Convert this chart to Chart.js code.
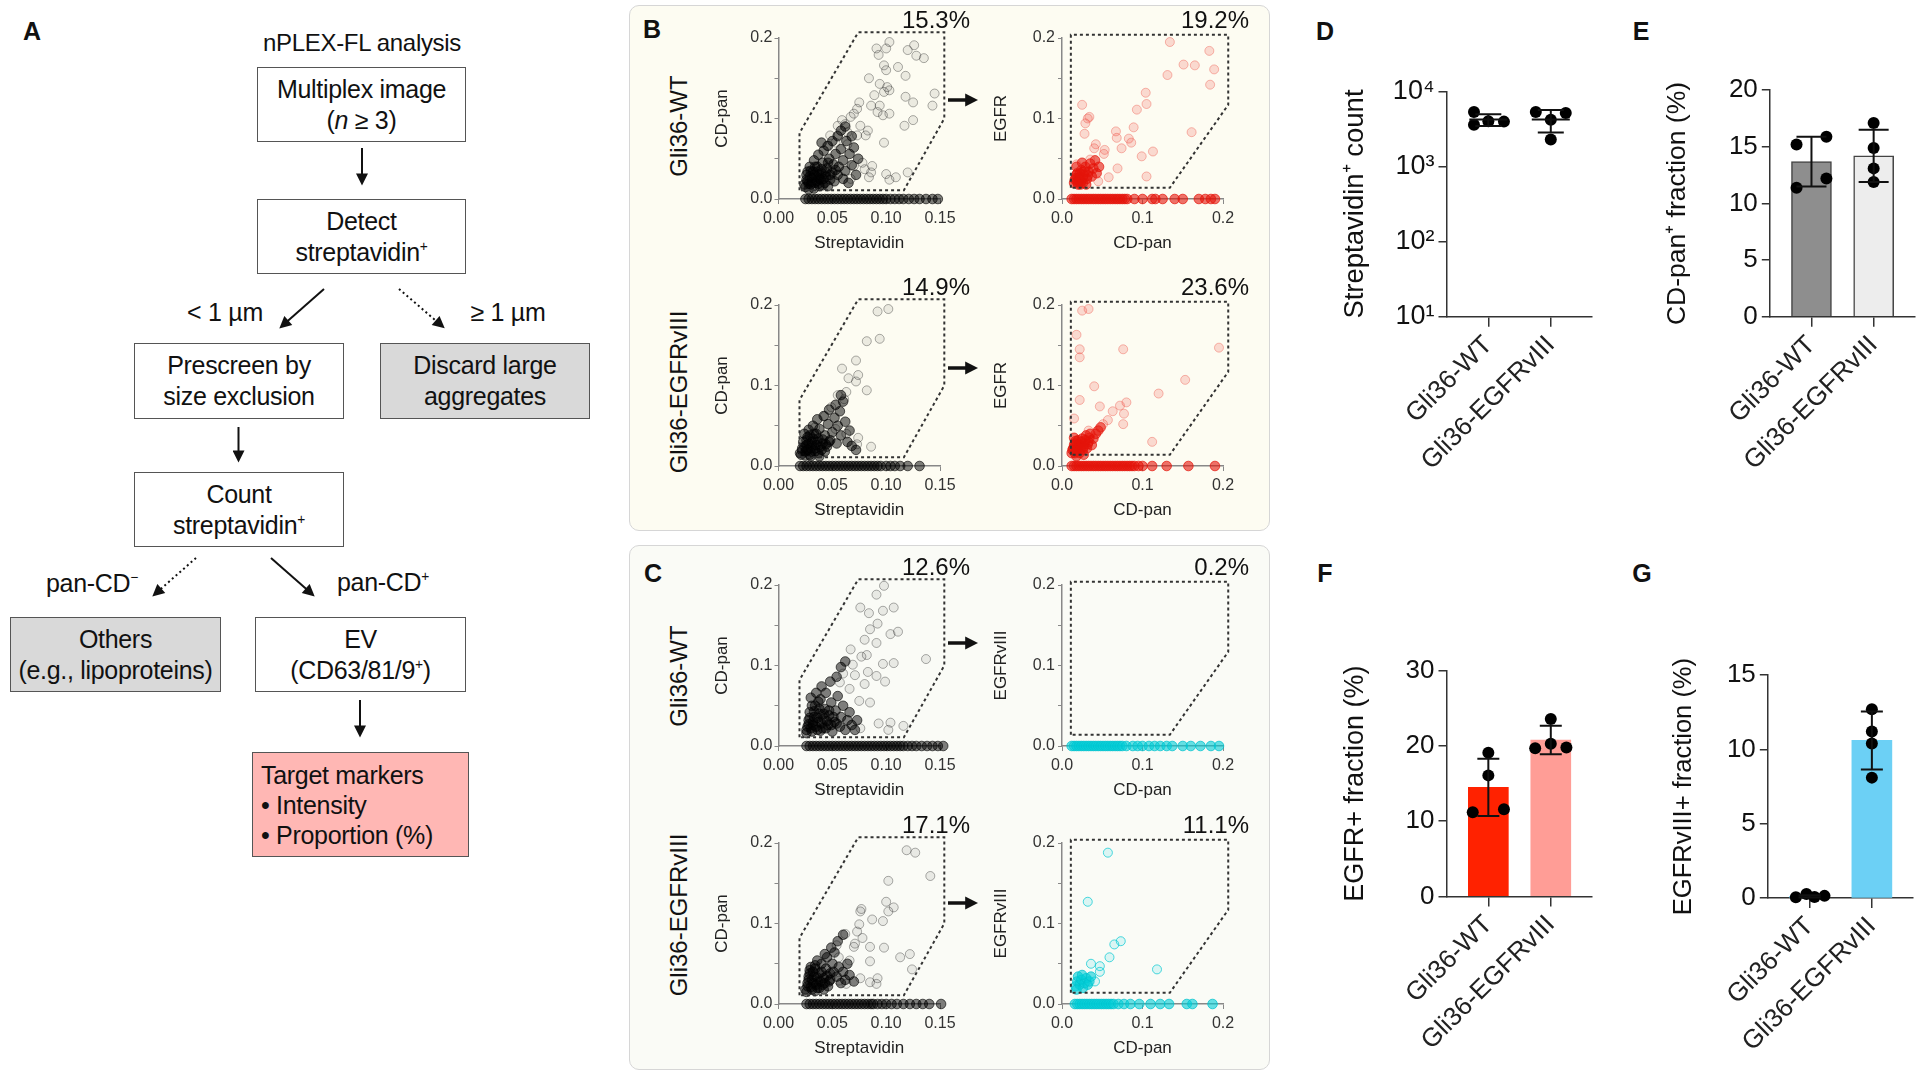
<!DOCTYPE html>
<html lang="en">
<head>
<meta charset="UTF-8">
<title>nPLEX-FL analysis of Gli36 EVs</title>
<script src="https://cdn.jsdelivr.net/npm/chart.js"></script>
<style>
  body { margin: 0; background: #fff; font-family: "Liberation Sans", Arial, Helvetica, sans-serif; color: #111; }
  #page { position: relative; width: 1920px; height: 1080px; overflow: hidden; }
  #page canvas { position: absolute; }
  .panel { position: absolute; border: 1.5px solid #d6d6d6; border-radius: 10px; box-sizing: border-box; }
  .letter { position: absolute; font-weight: bold; font-size: 25px; transform: translate(-50%, -50%); }
  .ctr { position: absolute; transform: translate(-50%, -50%); white-space: nowrap; font-size: 25px; letter-spacing: -0.3px; }
  .rowlab { position: absolute; transform: translate(-50%, -50%) rotate(-90deg); white-space: nowrap; font-size: 24px; }
  .box { position: absolute; box-sizing: border-box; border: 1.5px solid #555; background: #fff; font-size: 25px;
         letter-spacing: -0.3px; line-height: 31px; text-align: center; display: flex; flex-direction: column; justify-content: center; }
  .box.gray { background: #d9d9d9; }
  .box.pink { background: #ffb7b4; text-align: left; padding-left: 8px; line-height: 30px; }
  sup { font-size: 0.55em; vertical-align: 0.7em; line-height: 0; }
  svg { position: absolute; left: 0; top: 0; }
</style>
</head>
<body>
<div id="page">
  <!-- panel backgrounds -->
  <div class="panel" style="left:629px;top:5px;width:641px;height:526px;background:#fdfcf2"></div>
  <div class="panel" style="left:629px;top:545px;width:641px;height:525px;background:#fafbf6"></div>

  <!-- A: workflow -->
  <div class="letter" style="left:32px;top:31px">A</div>
  <div class="ctr" style="left:362px;top:43px;font-size:24px">nPLEX-FL analysis</div>
  <div class="box" style="left:257px;top:67px;width:209px;height:75px"><div>Multiplex image<br>(<i>n</i> ≥ 3)</div></div>
  <div class="box" style="left:257px;top:199px;width:209px;height:75px"><div>Detect<br>streptavidin<sup>+</sup></div></div>
  <div class="ctr" style="left:225px;top:312px">&lt; 1 µm</div>
  <div class="ctr" style="left:508px;top:312px">≥ 1 µm</div>
  <div class="box" style="left:134px;top:343px;width:210px;height:76px"><div>Prescreen by<br>size exclusion</div></div>
  <div class="box gray" style="left:380px;top:343px;width:210px;height:76px"><div>Discard large<br>aggregates</div></div>
  <div class="box" style="left:134px;top:472px;width:210px;height:75px"><div>Count<br>streptavidin<sup>+</sup></div></div>
  <div class="ctr" style="left:92px;top:583px">pan-CD<sup>−</sup></div>
  <div class="ctr" style="left:383px;top:582px">pan-CD<sup>+</sup></div>
  <div class="box gray" style="left:10px;top:617px;width:211px;height:75px"><div>Others<br>(e.g., lipoproteins)</div></div>
  <div class="box" style="left:255px;top:617px;width:211px;height:75px"><div>EV<br>(CD63/81/9<sup>+</sup>)</div></div>
  <div class="box pink" style="left:252px;top:752px;width:217px;height:105px"><div>Target markers<br>• Intensity<br>• Proportion (%)</div></div>

  <!-- B / C labels -->
  <div class="letter" style="left:652px;top:29px">B</div>
  <div class="letter" style="left:653px;top:573px">C</div>
  <div class="rowlab" style="left:679px;top:126px">Gli36-WT</div>
  <div class="rowlab" style="left:679px;top:392px">Gli36-EGFRvIII</div>
  <div class="rowlab" style="left:679px;top:676px">Gli36-WT</div>
  <div class="rowlab" style="left:679px;top:915px">Gli36-EGFRvIII</div>

  <div class="letter" style="left:1325px;top:31px">D</div>
  <div class="letter" style="left:1641px;top:31px">E</div>
  <div class="letter" style="left:1325px;top:573px">F</div>
  <div class="letter" style="left:1642px;top:573px">G</div>

  <svg width="1920" height="1080">
    <defs>
      <marker id="ah" viewBox="0 0 10 10" refX="7" refY="5" markerUnits="userSpaceOnUse" markerWidth="14" markerHeight="12" orient="auto">
        <path d="M0,0 L10,5 L0,10 z" fill="#111"/>
      </marker>
      <marker id="ahBig" viewBox="0 0 10 10" refX="6" refY="5" markerUnits="userSpaceOnUse" markerWidth="13" markerHeight="16" orient="auto">
        <path d="M0,0 L10,5 L0,10 z" fill="#111"/>
      </marker>
    </defs>
    <g stroke="#111" stroke-width="2" fill="none">
      <line x1="362" y1="148" x2="362" y2="182" marker-end="url(#ah)"/>
      <line x1="324" y1="289" x2="282" y2="326" marker-end="url(#ah)"/>
      <line x1="399" y1="289" x2="442" y2="326" stroke-dasharray="2 3" marker-end="url(#ah)"/>
      <line x1="238.5" y1="427" x2="238.5" y2="459" marker-end="url(#ah)"/>
      <line x1="196" y1="558" x2="155" y2="594" stroke-dasharray="2 3" marker-end="url(#ah)"/>
      <line x1="271" y1="558" x2="312" y2="594" marker-end="url(#ah)"/>
      <line x1="360" y1="700" x2="360" y2="734" marker-end="url(#ah)"/>
    </g>
    <g stroke="#111" stroke-width="3.5" fill="none">
      <line x1="948" y1="100" x2="973" y2="100" marker-end="url(#ahBig)"/>
      <line x1="948" y1="368" x2="973" y2="368" marker-end="url(#ahBig)"/>
      <line x1="948" y1="643" x2="973" y2="643" marker-end="url(#ahBig)"/>
      <line x1="948" y1="903" x2="973" y2="903" marker-end="url(#ahBig)"/>
    </g>
  </svg>
</div>

<script>
// ---------- categories ----------
const groups = ['Gli36-WT', 'Gli36-EGFRvIII'];

// ---------- panels B/C: gates (x, y) ----------
const gateLeft = [[0.0195,0.011],[0.0195,0.082],[0.074,0.207],[0.154,0.207],[0.154,0.100],[0.1165,0.011],[0.0195,0.011]];
const gateRight = [[0.011,0.014],[0.011,0.204],[0.2065,0.204],[0.2065,0.117],[0.134,0.014],[0.011,0.014]];

// gated percentages
const pctB = ['15.3%', '19.2%', '14.9%', '23.6%'];
const pctC = ['12.6%', '0.2%', '17.1%', '11.1%'];

// B, Gli36-WT: CD-pan vs streptavidin
const bWtLeftSparse = [[0.103,0.195],[0.100,0.187],[0.091,0.187],[0.093,0.179],[0.120,0.185],[0.126,0.191],[0.128,0.178],[0.135,0.175],
  [0.098,0.166],[0.100,0.160],[0.111,0.164],[0.118,0.153],[0.084,0.150],[0.094,0.143],[0.101,0.139],[0.098,0.133],[0.103,0.135],
  [0.089,0.129],[0.086,0.116],[0.094,0.116],[0.092,0.108],[0.097,0.104],[0.103,0.106],[0.118,0.127],[0.125,0.120],[0.145,0.131],
  [0.143,0.116],[0.125,0.098],[0.117,0.091],[0.098,0.070],[0.083,0.085],[0.075,0.120],[0.070,0.106],[0.073,0.112],[0.067,0.102],
  [0.076,0.091],[0.081,0.079],[0.059,0.098],[0.055,0.091],[0.062,0.093],[0.048,0.079],[0.055,0.079],[0.045,0.066],[0.053,0.070],
  [0.064,0.083],[0.073,0.079],[0.064,0.068],[0.078,0.045],[0.087,0.041],[0.086,0.033],[0.100,0.031],[0.103,0.024],[0.109,0.027],
  [0.120,0.033],[0.084,0.027],[0.080,0.037],[0.070,0.041],[0.067,0.025]];
const bWtLeftCore = [[0.025,0.015],[0.027,0.022],[0.026,0.030],[0.030,0.018],[0.031,0.026],[0.032,0.034],[0.034,0.020],[0.035,0.028],
  [0.036,0.040],[0.038,0.016],[0.039,0.024],[0.040,0.032],[0.041,0.045],[0.043,0.020],[0.044,0.028],[0.045,0.038],[0.047,0.050],
  [0.048,0.024],[0.050,0.033],[0.051,0.043],[0.053,0.056],[0.055,0.030],[0.056,0.040],[0.058,0.062],[0.060,0.048],[0.062,0.035],
  [0.063,0.072],[0.066,0.056],[0.068,0.042],[0.070,0.064],[0.072,0.030],[0.074,0.050],[0.029,0.040],[0.033,0.048],[0.037,0.055],
  [0.042,0.060],[0.046,0.066],[0.050,0.072],[0.055,0.078],[0.028,0.012],[0.033,0.013],[0.038,0.030],[0.046,0.016],[0.052,0.022],
  [0.060,0.025],[0.065,0.020],[0.040,0.070],[0.058,0.085],[0.062,0.090],[0.068,0.078],
  [0.024,0.018],[0.026,0.024],[0.028,0.019],[0.029,0.028],[0.031,0.021],[0.033,0.030],[0.035,0.022],[0.036,0.034],[0.038,0.025],
  [0.040,0.037],[0.042,0.025],[0.044,0.033],[0.030,0.035],[0.034,0.040],[0.027,0.034],[0.037,0.019],[0.041,0.017],[0.048,0.030],
  [0.053,0.036],[0.046,0.045]];
const bWtLeftAxis = [0.025,0.028,0.031,0.034,0.037,0.040,0.043,0.046,0.049,0.052,0.055,0.058,0.061,0.064,0.067,0.070,0.073,0.076,
  0.079,0.082,0.085,0.088,0.091,0.094,0.097,0.100,0.104,0.108,0.112,0.116,0.121,0.126,0.131,0.137,0.143,0.148];

// B, Gli36-WT: EGFR vs CD-pan
const bWtRightSparse = [[0.134,0.195],[0.183,0.184],[0.151,0.167],[0.165,0.166],[0.189,0.161],[0.131,0.154],[0.184,0.142],[0.104,0.132],
  [0.105,0.118],[0.093,0.111],[0.025,0.117],[0.032,0.100],[0.029,0.094],[0.034,0.102],[0.028,0.081],[0.089,0.089],[0.161,0.083],
  [0.067,0.084],[0.068,0.076],[0.083,0.075],[0.086,0.070],[0.074,0.063],[0.042,0.068],[0.040,0.063],[0.053,0.061],[0.052,0.056],
  [0.113,0.059],[0.099,0.053],[0.069,0.038],[0.058,0.027],[0.105,0.028],[0.018,0.043],[0.035,0.049],[0.045,0.022]];
const bWtRightCore = [[0.015,0.020],[0.017,0.026],[0.019,0.032],[0.021,0.022],[0.023,0.028],[0.024,0.036],[0.026,0.020],[0.027,0.030],
  [0.029,0.040],[0.031,0.025],[0.033,0.034],[0.035,0.044],[0.037,0.028],[0.039,0.038],[0.041,0.048],[0.043,0.032],[0.046,0.040],
  [0.020,0.018],[0.030,0.018],[0.025,0.045],[0.018,0.040],
  [0.016,0.024],[0.018,0.030],[0.020,0.026],[0.022,0.032],[0.024,0.022],[0.026,0.026],[0.028,0.034],[0.032,0.029],[0.019,0.021],
  [0.023,0.018]];
const bWtRightAxis = [0.012,0.015,0.018,0.021,0.024,0.027,0.030,0.033,0.036,0.039,0.042,0.045,0.048,0.051,0.054,0.057,0.060,0.063,
  0.066,0.069,0.072,0.075,0.078,0.081,0.090,0.100,0.112,0.116,0.125,0.140,0.150,0.170,0.178,0.185,0.190];

// B, Gli36-EGFRvIII: CD-pan vs streptavidin
const bViiiLeftSparse = [[0.092,0.192],[0.102,0.195],[0.082,0.155],[0.094,0.158],[0.072,0.131],[0.059,0.121],[0.065,0.109],[0.074,0.113],
  [0.072,0.105],[0.082,0.094],[0.063,0.092],[0.055,0.088],[0.061,0.083],[0.049,0.073],[0.043,0.062],[0.074,0.035],[0.086,0.024],
  [0.073,0.027],[0.063,0.040],[0.053,0.046],[0.034,0.048]];
const bViiiLeftCore = [[0.021,0.014],[0.022,0.022],[0.023,0.030],[0.025,0.018],[0.026,0.026],[0.027,0.036],[0.029,0.014],[0.030,0.022],
  [0.031,0.030],[0.033,0.040],[0.034,0.018],[0.035,0.026],[0.037,0.034],[0.038,0.046],[0.040,0.020],[0.041,0.028],[0.043,0.038],
  [0.045,0.024],[0.046,0.052],[0.048,0.032],[0.050,0.042],[0.052,0.060],[0.054,0.028],[0.055,0.050],[0.057,0.068],[0.058,0.038],
  [0.060,0.080],[0.062,0.055],[0.064,0.030],[0.066,0.044],[0.024,0.040],[0.028,0.045],[0.032,0.050],[0.036,0.058],[0.042,0.062],
  [0.047,0.070],[0.053,0.076],[0.058,0.088],[0.030,0.012],[0.038,0.012],[0.068,0.025],[0.072,0.020],
  [0.020,0.016],[0.022,0.019],[0.024,0.024],[0.025,0.013],[0.027,0.020],[0.028,0.028],[0.030,0.017],[0.031,0.025],[0.032,0.034],
  [0.034,0.022],[0.036,0.030],[0.037,0.016],[0.039,0.024],[0.041,0.033],[0.043,0.018],[0.044,0.027],[0.026,0.032],[0.029,0.038],
  [0.035,0.040],[0.047,0.030]];
const bViiiLeftAxis = [0.020,0.023,0.026,0.029,0.032,0.035,0.038,0.041,0.044,0.047,0.050,0.053,0.056,0.059,0.062,0.065,0.068,0.071,
  0.074,0.077,0.080,0.083,0.086,0.089,0.092,0.095,0.100,0.104,0.108,0.113,0.120,0.131];

// B, Gli36-EGFRvIII: EGFR vs CD-pan
const bViiiRightSparse = [[0.025,0.193],[0.033,0.195],[0.018,0.163],[0.022,0.145],[0.022,0.135],[0.076,0.145],[0.195,0.147],[0.153,0.107],
  [0.040,0.099],[0.120,0.090],[0.022,0.082],[0.047,0.074],[0.072,0.075],[0.080,0.079],[0.077,0.065],[0.063,0.068],[0.057,0.057],
  [0.051,0.052],[0.076,0.052],[0.015,0.059],[0.112,0.030],[0.043,0.043],[0.033,0.044]];
const bViiiRightCore = [[0.012,0.016],[0.014,0.022],[0.016,0.028],[0.017,0.018],[0.019,0.024],[0.020,0.032],[0.022,0.016],[0.023,0.026],
  [0.025,0.034],[0.026,0.020],[0.028,0.028],[0.030,0.038],[0.031,0.022],[0.033,0.030],[0.035,0.040],[0.037,0.026],[0.039,0.034],
  [0.042,0.040],[0.015,0.035],[0.018,0.012],[0.027,0.014],[0.045,0.044],[0.048,0.048],
  [0.013,0.020],[0.015,0.026],[0.017,0.031],[0.019,0.020],[0.021,0.027],[0.023,0.021],[0.024,0.030],[0.027,0.024],[0.029,0.032],
  [0.032,0.027],[0.016,0.016],[0.034,0.035]];
const bViiiRightAxis = [0.012,0.015,0.018,0.021,0.024,0.027,0.030,0.033,0.036,0.039,0.042,0.045,0.048,0.051,0.054,0.057,0.060,0.063,
  0.066,0.069,0.072,0.075,0.078,0.081,0.084,0.087,0.090,0.095,0.100,0.112,0.130,0.157,0.190];

// C, Gli36-WT: CD-pan vs streptavidin
const cWtLeftSparse = [[0.098,0.199],[0.091,0.188],[0.076,0.172],[0.084,0.165],[0.097,0.168],[0.107,0.172],[0.092,0.152],[0.085,0.145],
  [0.104,0.139],[0.111,0.142],[0.080,0.132],[0.091,0.128],[0.067,0.120],[0.082,0.113],[0.077,0.111],[0.069,0.101],[0.097,0.102],
  [0.107,0.103],[0.137,0.108],[0.083,0.092],[0.091,0.087],[0.099,0.080],[0.071,0.088],[0.080,0.077],[0.060,0.090],[0.075,0.056],
  [0.085,0.054],[0.093,0.028],[0.104,0.029],[0.102,0.020],[0.116,0.025],[0.076,0.022],[0.066,0.071],[0.057,0.079]];
const cWtLeftCore = [[0.026,0.016],[0.027,0.024],[0.028,0.032],[0.029,0.042],[0.031,0.018],[0.032,0.026],[0.033,0.036],[0.034,0.050],
  [0.036,0.020],[0.037,0.030],[0.038,0.040],[0.039,0.058],[0.041,0.022],[0.042,0.034],[0.043,0.046],[0.044,0.066],[0.046,0.026],
  [0.047,0.038],[0.049,0.054],[0.050,0.018],[0.052,0.030],[0.053,0.044],[0.055,0.062],[0.057,0.024],[0.058,0.036],[0.060,0.050],
  [0.062,0.020],[0.064,0.032],[0.066,0.042],[0.068,0.026],[0.071,0.020],[0.030,0.060],[0.035,0.066],[0.040,0.074],[0.048,0.080],
  [0.054,0.086],[0.058,0.098],[0.062,0.105],[0.073,0.032],
  [0.026,0.020],[0.028,0.027],[0.029,0.035],[0.030,0.022],[0.032,0.030],[0.033,0.043],[0.035,0.024],[0.036,0.035],[0.038,0.046],
  [0.039,0.019],[0.040,0.028],[0.042,0.040],[0.044,0.022],[0.045,0.031],[0.047,0.044],[0.049,0.026],[0.051,0.036],[0.054,0.028],
  [0.031,0.050],[0.037,0.055]];
const cWtLeftAxis = [0.026,0.029,0.032,0.035,0.038,0.041,0.044,0.047,0.050,0.053,0.056,0.059,0.062,0.065,0.068,0.071,0.074,0.077,
  0.080,0.083,0.086,0.089,0.092,0.095,0.098,0.101,0.104,0.107,0.110,0.113,0.116,0.120,0.124,0.128,0.133,0.138,0.143,0.148,0.153];

// C, Gli36-WT: EGFRvIII vs CD-pan (nothing gated)
const cWtRightSparse = [];
const cWtRightCore = [];
const cWtRightAxis = [0.012,0.015,0.018,0.021,0.024,0.027,0.030,0.033,0.036,0.039,0.042,0.045,0.048,0.051,0.054,0.057,0.060,0.063,
  0.066,0.069,0.072,0.075,0.080,0.088,0.094,0.100,0.108,0.115,0.122,0.130,0.137,0.150,0.160,0.172,0.185,0.195];

// C, Gli36-EGFRvIII: CD-pan vs streptavidin
const cViiiLeftSparse = [[0.119,0.191],[0.127,0.188],[0.141,0.159],[0.102,0.153],[0.100,0.127],[0.107,0.120],[0.102,0.115],[0.077,0.118],
  [0.076,0.115],[0.087,0.105],[0.097,0.103],[0.075,0.099],[0.073,0.090],[0.062,0.087],[0.078,0.082],[0.071,0.075],[0.070,0.071],
  [0.054,0.073],[0.085,0.071],[0.098,0.070],[0.113,0.058],[0.122,0.062],[0.085,0.053],[0.124,0.043],[0.085,0.027],[0.092,0.032],
  [0.091,0.025],[0.076,0.032],[0.063,0.025],[0.056,0.029],[0.066,0.054],[0.056,0.058]];
const cViiiLeftCore = [[0.026,0.015],[0.027,0.022],[0.028,0.030],[0.029,0.038],[0.031,0.018],[0.032,0.026],[0.033,0.034],[0.034,0.044],
  [0.036,0.020],[0.037,0.028],[0.038,0.038],[0.040,0.050],[0.041,0.024],[0.042,0.032],[0.044,0.044],[0.045,0.058],[0.047,0.028],
  [0.048,0.038],[0.050,0.050],[0.052,0.064],[0.054,0.034],[0.056,0.046],[0.058,0.026],[0.060,0.040],[0.062,0.030],[0.064,0.050],
  [0.030,0.046],[0.036,0.054],[0.043,0.062],[0.049,0.070],[0.055,0.078],[0.060,0.086],[0.066,0.036],[0.070,0.028],
  [0.025,0.018],[0.027,0.026],[0.028,0.034],[0.030,0.021],[0.031,0.030],[0.032,0.040],[0.034,0.016],[0.035,0.024],[0.036,0.033],
  [0.038,0.020],[0.039,0.028],[0.040,0.040],[0.042,0.018],[0.043,0.026],[0.045,0.035],[0.046,0.022],[0.048,0.030],[0.029,0.042],
  [0.034,0.048],[0.051,0.040]];
const cViiiLeftAxis = [0.026,0.029,0.032,0.035,0.038,0.041,0.044,0.047,0.050,0.053,0.056,0.059,0.062,0.065,0.068,0.071,0.074,0.077,
  0.080,0.083,0.086,0.088,0.092,0.096,0.100,0.105,0.110,0.116,0.122,0.128,0.134,0.140,0.151];

// C, Gli36-EGFRvIII: EGFRvIII vs CD-pan
const cViiiRightSparse = [[0.057,0.188],[0.032,0.127],[0.065,0.074],[0.073,0.078],[0.059,0.058],[0.036,0.050],[0.047,0.047],[0.047,0.040],
  [0.118,0.043],[0.041,0.028]];
const cViiiRightCore = [[0.017,0.022],[0.019,0.028],[0.020,0.034],[0.022,0.024],[0.024,0.030],[0.026,0.020],[0.028,0.026],[0.030,0.032],
  [0.032,0.024],[0.034,0.028],[0.036,0.034],[0.018,0.018],[0.025,0.036]];
const cViiiRightAxis = [0.016,0.019,0.022,0.025,0.028,0.031,0.034,0.037,0.040,0.043,0.046,0.049,0.052,0.055,0.058,0.061,0.064,
  0.070,0.077,0.085,0.096,0.110,0.122,0.133,0.155,0.162,0.187];

// ---------- panels D-G: replicate values, mean and SD ----------
const countWt = [5300, 3600, 4000, 3950];
const countViii = [5300, 4180, 5150, 2290];
const countMean = [4210, 4230];
const countSd = [750, 1390];

const cdpanWt = [15.2, 15.9, 11.4, 12.2];
const cdpanViii = [17.1, 14.9, 13.1, 11.9];
const cdpanMean = [13.7, 14.2];
const cdpanSd = [2.2, 2.3];

const egfrWt = [19.1, 16.1, 11.2, 11.6];
const egfrViii = [23.6, 19.7, 20.3, 19.8];
const egfrMean = [14.5, 20.8];
const egfrSd = [3.8, 1.9];

const viiiWt = [0.05, 0.28, 0.08, 0.15];
const viiiViii = [12.7, 11.2, 10.4, 8.1];
const viiiMean = [0.12, 10.6];
const viiiSd = [0.08, 1.95];

// ---------- helpers ----------
Chart.defaults.font.family = '"Liberation Sans", Arial, Helvetica, sans-serif';
Chart.defaults.color = '#222';

const page = document.getElementById('page');
function addCanvas(left, top, w, h) {
  const c = document.createElement('canvas');
  c.width = w; c.height = h;
  c.style.left = left + 'px'; c.style.top = top + 'px';
  page.insertBefore(c, page.querySelector('svg'));
  return c;
}

// percentage printed above the gate
const cornerLabel = {
  id: 'cornerLabel',
  afterDraw(chart, args, opts) {
    if (!opts || !opts.text) return;
    const { ctx, chartArea } = chart;
    ctx.save();
    ctx.font = '24px "Liberation Sans", Arial, sans-serif';
    ctx.fillStyle = '#111';
    ctx.textAlign = 'right';
    ctx.textBaseline = 'middle';
    ctx.fillText(opts.text, chartArea.right + opts.dx, chartArea.top - 17);
    ctx.restore();
  }
};

// mean +/- SD whiskers
const errorBars = {
  id: 'errorBars',
  afterDatasetsDraw(chart, args, opts) {
    if (!opts || !opts.means) return;
    const { ctx } = chart;
    const xs = chart.scales.x, ys = chart.scales.y;
    ctx.save();
    ctx.strokeStyle = '#111';
    ctx.lineWidth = 2;
    opts.means.forEach((m, i) => {
      const x = xs.getPixelForValue(i);
      const yTop = ys.getPixelForValue(m + opts.sds[i]);
      const yBot = ys.getPixelForValue(m - opts.sds[i]);
      ctx.beginPath();
      ctx.moveTo(x, yTop); ctx.lineTo(x, yBot);
      ctx.moveTo(x - opts.cap, yTop); ctx.lineTo(x + opts.cap, yTop);
      ctx.moveTo(x - opts.cap, yBot); ctx.lineTo(x + opts.cap, yBot);
      if (opts.meanLine) {
        const yMid = ys.getPixelForValue(m);
        ctx.moveTo(x - opts.meanLine, yMid); ctx.lineTo(x + opts.meanLine, yMid);
      }
      ctx.stroke();
    });
    ctx.restore();
  }
};
Chart.register(cornerLabel, errorBars);

const blackDots = { light: 'rgba(0,0,0,0.07)', lightEdge: 'rgba(0,0,0,0.32)', dark: 'rgba(0,0,0,0.5)', darkEdge: 'rgba(0,0,0,0.62)' };
const redDots = { light: 'rgba(240,60,50,0.18)', lightEdge: 'rgba(235,60,50,0.35)', dark: 'rgba(228,20,10,0.6)', darkEdge: 'rgba(228,20,10,0.7)' };
const cyanDots = { light: 'rgba(40,215,225,0.15)', lightEdge: 'rgba(0,200,210,0.7)', dark: 'rgba(0,205,215,0.6)', darkEdge: 'rgba(0,195,205,0.75)' };

function scatterPanel(rowTop, side, sparse, core, axisRow, colors, pct, yTitle) {
  const L = side === 'left';
  const canvas = addCanvas(L ? 700 : 985, rowTop - 37, L ? 275 : 270, 254);
  const xy = arr => arr.map(p => ({ x: p[0], y: p[1] }));
  const dots = (data, fill, edge, r) => ({ data, pointRadius: r, pointBackgroundColor: fill, pointBorderColor: edge, pointBorderWidth: 1, clip: false });
  new Chart(canvas, {
    type: 'scatter',
    data: {
      datasets: [
        { data: xy(L ? gateLeft : gateRight), showLine: true, fill: false, borderColor: '#333', borderWidth: 2, borderDash: [3, 3], pointRadius: 0, clip: false },
        dots(xy(sparse), colors.light, colors.lightEdge, 4.5),
        dots(xy(core), colors.dark, colors.darkEdge, 4.8),
        dots(axisRow.map(x => ({ x, y: 0 })), colors.dark, colors.darkEdge, 4.8)
      ]
    },
    options: {
      responsive: false, animation: false,
      layout: { padding: { top: 37, right: L ? 35 : 32, left: 0, bottom: 0 }, autoPadding: false },
      plugins: { legend: { display: false }, tooltip: { enabled: false }, cornerLabel: { text: pct, dx: L ? 30 : 26 } },
      scales: {
        x: {
          type: 'linear', min: 0, max: L ? 0.15 : 0.2,
          afterFit: s => { s.height = 56; },
          ticks: { stepSize: L ? 0.05 : 0.1, callback: v => v.toFixed(L ? 2 : 1), font: { size: 16 }, color: '#333', padding: 5, maxRotation: 0, autoSkip: false },
          grid: { drawOnChartArea: false, tickLength: 5, color: '#888' },
          border: { color: '#888', width: 1.5 },
          title: { display: true, text: L ? 'Streptavidin' : 'CD-pan', font: { size: 17 }, color: '#222', padding: { top: 0, bottom: 1 } }
        },
        y: {
          min: 0, max: 0.2,
          afterFit: s => { s.width = L ? 78.5 : 77; },
          ticks: { stepSize: 0.05, callback: v => (Math.round(v * 100) % 10 === 0 ? v.toFixed(1) : ''), font: { size: 16 }, color: '#333', padding: L ? 2 : 3 },
          grid: { drawOnChartArea: false, tickLength: 4, color: '#888' },
          border: { color: '#888', width: 1.5 },
          title: { display: true, text: yTitle, font: { size: 17 }, color: '#222', padding: { top: L ? 12.4 : 6.4, bottom: 0 } }
        }
      }
    }
  });
}

// panel B
scatterPanel(37.5, 'left', bWtLeftSparse, bWtLeftCore, bWtLeftAxis, blackDots, pctB[0], 'CD-pan');
scatterPanel(37.5, 'right', bWtRightSparse, bWtRightCore, bWtRightAxis, redDots, pctB[1], 'EGFR');
scatterPanel(305, 'left', bViiiLeftSparse, bViiiLeftCore, bViiiLeftAxis, blackDots, pctB[2], 'CD-pan');
scatterPanel(305, 'right', bViiiRightSparse, bViiiRightCore, bViiiRightAxis, redDots, pctB[3], 'EGFR');
// panel C
scatterPanel(585, 'left', cWtLeftSparse, cWtLeftCore, cWtLeftAxis, blackDots, pctC[0], 'CD-pan');
scatterPanel(585, 'right', cWtRightSparse, cWtRightCore, cWtRightAxis, cyanDots, pctC[1], 'EGFRvIII');
scatterPanel(843, 'left', cViiiLeftSparse, cViiiLeftCore, cViiiLeftAxis, blackDots, pctC[2], 'CD-pan');
scatterPanel(843, 'right', cViiiRightSparse, cViiiRightCore, cViiiRightAxis, cyanDots, pctC[3], 'EGFRvIII');

// ---------- panels D-G ----------
const sup = ['⁰', '¹', '²', '³', '⁴'];
function groupPanel(cfg) {
  const canvas = addCanvas(cfg.left, cfg.top, cfg.w, 460);
  const pts = [];
  cfg.values.forEach((vals, g) => vals.forEach((v, k) => pts.push({ x: g + cfg.jitter[g][k], y: v })));
  const datasets = [{ type: 'scatter', data: pts, pointRadius: 6, pointBackgroundColor: '#000', pointBorderWidth: 0, order: 0, clip: false }];
  if (cfg.barColors) {
    datasets.push({
      type: 'bar', data: cfg.means.map((m, g) => ({ x: g, y: m })), order: 1,
      backgroundColor: cfg.barColors, borderColor: cfg.barEdge || cfg.barColors, borderWidth: cfg.barEdge ? 1.5 : 0, barThickness: 40
    });
  }
  const yScale = Object.assign({
    afterFit: s => { s.width = cfg.yw; },
    ticks: { font: { size: 26 }, color: '#111', padding: 4 },
    grid: { drawOnChartArea: false, tickLength: 8, color: '#333', lineWidth: 1.5 },
    border: { color: '#333', width: 1.5 },
    title: { display: true, text: cfg.yTitle, font: { size: cfg.titleSize }, color: '#111', padding: { top: cfg.titlePad, bottom: 0 } }
  }, cfg.yScale);
  new Chart(canvas, {
    type: 'bar',
    data: { datasets },
    options: {
      responsive: false, animation: false,
      layout: { padding: { top: cfg.padTop, right: cfg.padRight, left: 0, bottom: 0 }, autoPadding: false },
      plugins: { legend: { display: false }, tooltip: { enabled: false },
        errorBars: { means: cfg.means, sds: cfg.sds, cap: cfg.cap, meanLine: cfg.meanLine } },
      scales: {
        x: {
          type: 'linear', min: -0.67, max: 1.66, offset: false,
          afterFit: s => { s.height = 460 - cfg.padTop - cfg.plotH; },
          afterBuildTicks: s => { s.ticks = [{ value: 0 }, { value: 1 }]; },
          ticks: { callback: (v, i) => groups[i], minRotation: 45, maxRotation: 45, autoSkip: false, font: { size: 26 }, color: '#222', padding: 3 },
          grid: { drawOnChartArea: false, offset: false, tickLength: 10, color: '#333', lineWidth: 1.5 },
          border: { color: '#333', width: 1.5, dash: cfg.dashed ? [2, 2] : [] }
        },
        y: yScale
      }
    }
  });
}

// D: streptavidin+ count (log)
groupPanel({
  left: 1335, top: 40, w: 270, padTop: 51.3, padRight: 13, yw: 111.5, plotH: 225.5, titlePad: 4, titleSize: 27.5,
  values: [countWt, countViii], jitter: [[-0.23, -0.23, 0, 0.25], [-0.24, 0, 0.24, 0]],
  means: countMean, sds: countSd, cap: 13, meanLine: 19, dashed: false,
  yTitle: 'Streptavidin⁺ count',
  yScale: { type: 'logarithmic', min: 10, max: 10000,
    afterBuildTicks: s => { s.ticks = [10, 100, 1000, 10000].map(v => ({ value: v })); },
    ticks: { font: { size: 27 }, color: '#111', padding: 4, callback: v => '10' + sup[Math.round(Math.log10(v))] } }
});
// E: CD-pan+ fraction
groupPanel({
  left: 1655, top: 40, w: 265, padTop: 50.2, padRight: 5.3, yw: 114.8, plotH: 226.6, titlePad: 7, titleSize: 26.5,
  values: [cdpanWt, cdpanViii], jitter: [[-0.24, 0.24, -0.24, 0.24], [0, 0, 0, 0]],
  means: cdpanMean, sds: cdpanSd, cap: 15, dashed: true,
  barColors: ['#8e8e8e', '#ededed'], barEdge: '#444',
  yTitle: 'CD-pan⁺ fraction (%)',
  yScale: { min: 0, max: 20, ticks: { stepSize: 5, font: { size: 26 }, color: '#111', padding: 4 } }
});
// F: EGFR+ fraction
groupPanel({
  left: 1335, top: 620, w: 270, padTop: 50.9, padRight: 13, yw: 111.5, plotH: 225.5, titlePad: 4.5, titleSize: 27,
  values: [egfrWt, egfrViii], jitter: [[0, 0, -0.25, 0.25], [0, -0.25, 0, 0.25]],
  means: egfrMean, sds: egfrSd, cap: 11, dashed: true,
  barColors: ['#ff2200', '#ff9d96'],
  yTitle: 'EGFR+ fraction (%)',
  yScale: { min: 0, max: 30, ticks: { stepSize: 10, font: { size: 26 }, color: '#111', padding: 4 } }
});
// G: EGFRvIII+ fraction
groupPanel({
  left: 1655, top: 620, w: 265, padTop: 55, padRight: 7, yw: 112.8, plotH: 223.1, titlePad: 13.5, titleSize: 25.5,
  values: [viiiWt, viiiViii], jitter: [[-0.22, -0.05, 0.08, 0.24], [0, 0, 0, 0]],
  means: viiiMean, sds: viiiSd, cap: 11, dashed: true,
  barColors: ['#6cd0f5', '#6cd0f5'],
  yTitle: 'EGFRvIII+ fraction (%)',
  yScale: { min: 0, max: 15, ticks: { stepSize: 5, font: { size: 26 }, color: '#111', padding: 4 } }
});
</script>
</body>
</html>
